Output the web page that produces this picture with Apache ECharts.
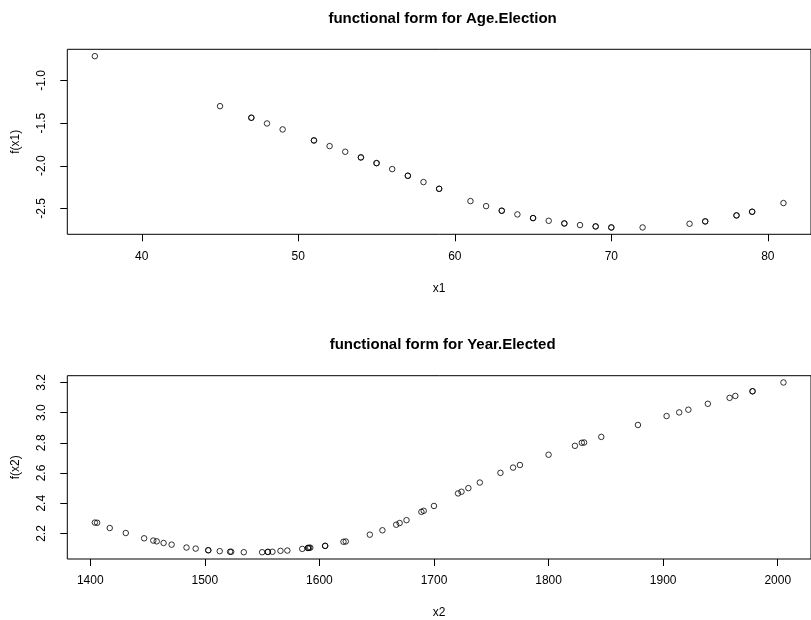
<!DOCTYPE html>
<html>
<head>
<meta charset="utf-8">
<script src="https://cdn.jsdelivr.net/npm/echarts@6/dist/echarts.min.js"></script>
<style>
  html, body { margin: 0; padding: 0; background: #fff; }
  #chart { width: 811px; height: 620px; }
</style>
</head>
<body>
<div id="chart"></div>
<script>
// Age at election and its fitted functional form
const ages = [37, 45, 47, 47, 48, 49, 51, 51, 52, 53, 54, 54, 55, 55, 56, 57, 57, 58,
  59, 59, 61, 62, 63, 63, 64, 65, 65, 66, 67, 67, 68, 69, 69, 70, 70, 72, 75, 76, 76,
  78, 78, 79, 79, 81];
const fAge = [-0.715, -1.301, -1.437, -1.437, -1.504, -1.574, -1.703, -1.703, -1.769,
  -1.836, -1.902, -1.902, -1.969, -1.969, -2.039, -2.117, -2.117, -2.191, -2.270, -2.270,
  -2.414, -2.473, -2.527, -2.527, -2.570, -2.613, -2.613, -2.645, -2.676, -2.676, -2.695,
  -2.711, -2.711, -2.723, -2.723, -2.723, -2.680, -2.652, -2.652, -2.582, -2.582, -2.539,
  -2.539, -2.437];

// Year of election and its fitted functional form
const years = [1404, 1406, 1417, 1431, 1447, 1455, 1458, 1464, 1471, 1484, 1492, 1503,
  1503, 1513, 1522, 1523, 1534, 1550, 1555, 1555, 1559, 1566, 1572, 1585, 1590, 1590,
  1591, 1592, 1605, 1605, 1621, 1623, 1644, 1655, 1667, 1670, 1676, 1689, 1691, 1700,
  1721, 1724, 1730, 1740, 1758, 1769, 1775, 1800, 1823, 1829, 1831, 1846, 1878, 1903,
  1914, 1922, 1939, 1958, 1963, 1978, 1978, 2005];
const fYear = [2.272, 2.271, 2.236, 2.203, 2.168, 2.153, 2.148, 2.137, 2.126, 2.107,
  2.100, 2.089, 2.089, 2.083, 2.079, 2.079, 2.076, 2.076, 2.078, 2.078, 2.079, 2.085,
  2.087, 2.098, 2.104, 2.104, 2.105, 2.106, 2.118, 2.118, 2.145, 2.147, 2.192, 2.221,
  2.258, 2.269, 2.288, 2.343, 2.350, 2.382, 2.465, 2.476, 2.500, 2.537, 2.601, 2.636,
  2.653, 2.721, 2.780, 2.800, 2.802, 2.839, 2.918, 2.977, 3.001, 3.019, 3.058, 3.097,
  3.110, 3.141, 3.141, 3.199];

// Tick positions
const x1Ticks = [40, 50, 60, 70, 80];
const y1Ticks = [-2.5, -2.0, -1.5, -1.0];
const x2Ticks = [1400, 1500, 1600, 1700, 1800, 1900, 2000];
const y2Ticks = [2.2, 2.4, 2.6, 2.8, 3.0, 3.2];

const FONT = '"Liberation Sans", Arial, Helvetica, sans-serif';

// Axis range padded by 4% on each side
function padRange(arr) {
  const lo = Math.min(...arr), hi = Math.max(...arr);
  const d = (hi - lo) * 0.04;
  return [lo - d, hi + d];
}

function xAxisFor(gridIndex, name, ticks, range) {
  return {
    type: 'value', gridIndex, name, nameLocation: 'middle', nameGap: 48,
    nameTextStyle: { fontFamily: FONT, fontSize: 12, color: '#000' },
    min: range[0], max: range[1],
    axisLine: { show: false },
    axisTick: { show: true, length: 7, customValues: ticks, lineStyle: { color: '#000', width: 1 } },
    axisLabel: {
      customValues: ticks, margin: 16, fontFamily: FONT, fontSize: 12, color: '#000',
      formatter: v => String(v)
    },
    splitLine: { show: false }
  };
}

function yAxisFor(gridIndex, name, ticks, range) {
  return {
    type: 'value', gridIndex, name, nameLocation: 'middle', nameGap: 46, nameRotate: 90,
    nameTextStyle: { fontFamily: FONT, fontSize: 12, color: '#000' },
    min: range[0], max: range[1],
    axisLine: { show: false },
    axisTick: { show: true, length: 7, customValues: ticks, lineStyle: { color: '#000', width: 1 } },
    axisLabel: {
      customValues: ticks, rotate: 90, margin: 20, fontFamily: FONT, fontSize: 12, color: '#000',
      formatter: v => v.toFixed(1)
    },
    splitLine: { show: false }
  };
}

const pointStyle = {
  type: 'scatter', symbol: 'circle', symbolSize: 5.5, silent: true,
  itemStyle: { color: 'rgba(0,0,0,0)', borderColor: '#000', borderWidth: 1 }
};

const chart = echarts.init(document.getElementById('chart'), null, { renderer: 'canvas' });
chart.setOption({
  animation: false,
  backgroundColor: '#fff',
  title: [
    { text: 'functional form for Age.Election', left: 442.6, top: 11, padding: 0, textAlign: 'center',
      textStyle: { fontFamily: FONT, fontSize: 15, fontWeight: 'bold', color: '#000' } },
    { text: 'functional form for Year.Elected', left: 442.6, top: 337, padding: 0, textAlign: 'center',
      textStyle: { fontFamily: FONT, fontSize: 15, fontWeight: 'bold', color: '#000' } }
  ],
  grid: [
    { left: 67.3, top: 49.3, width: 751, height: 185, show: true, borderColor: '#000', borderWidth: 1, backgroundColor: 'transparent' },
    { left: 67.3, top: 375.7, width: 751, height: 185.3, show: true, borderColor: '#000', borderWidth: 1, backgroundColor: 'transparent' }
  ],
  xAxis: [
    xAxisFor(0, 'x1', x1Ticks, padRange(ages)),
    xAxisFor(1, 'x2', x2Ticks, padRange(years))
  ],
  yAxis: [
    yAxisFor(0, 'f(x1)', y1Ticks, padRange(fAge)),
    yAxisFor(1, 'f(x2)', y2Ticks, padRange(fYear))
  ],
  series: [
    Object.assign({}, pointStyle, { xAxisIndex: 0, yAxisIndex: 0, data: ages.map((a, i) => [a, fAge[i]]) }),
    Object.assign({}, pointStyle, { xAxisIndex: 1, yAxisIndex: 1, data: years.map((y, i) => [y, fYear[i]]) })
  ]
});
</script>
</body>
</html>
